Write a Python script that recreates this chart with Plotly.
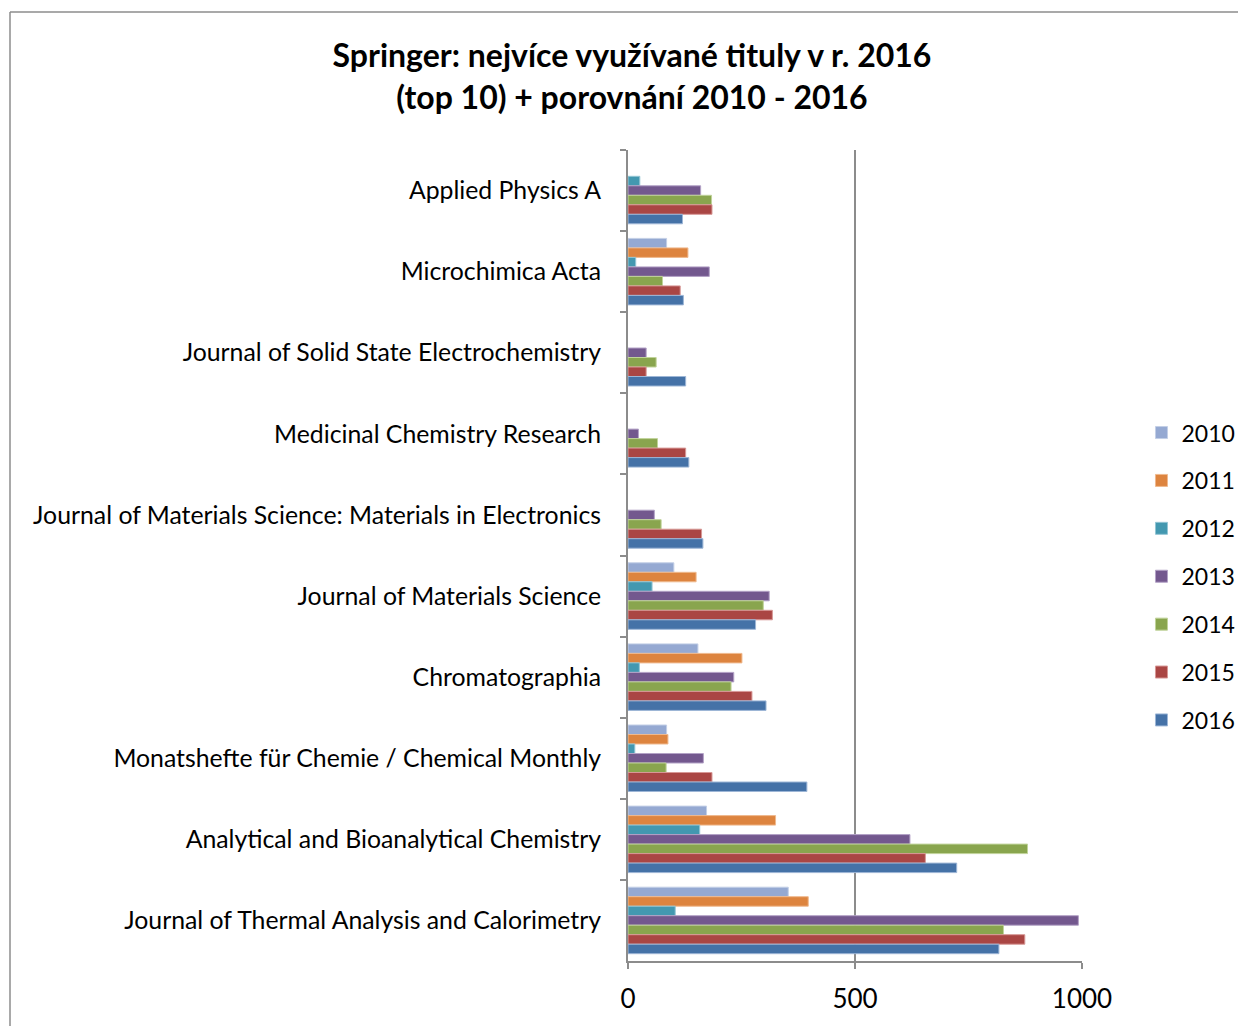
import plotly.graph_objects as go

# titles, top to bottom as shown in the chart
journals = [
    "Applied Physics A",
    "Microchimica Acta",
    "Journal of Solid State Electrochemistry",
    "Medicinal Chemistry Research",
    "Journal of Materials Science: Materials in Electronics",
    "Journal of Materials Science",
    "Chromatographia",
    "Monatshefte für Chemie / Chemical Monthly",
    "Analytical and Bioanalytical Chemistry",
    "Journal of Thermal Analysis and Calorimetry",
]

years = ["2010", "2011", "2012", "2013", "2014", "2015", "2016"]

# None = no value for that year
v2010 = [None, 85, None, None, None, 101, 154, 85, 173, 353]
v2011 = [None, 132, None, None, None, 150, 251, 88, 325, 397]
v2012 = [26, 17, None, None, None, 53, 25, 15, 158, 104]
v2013 = [160, 179, 40, 23, 58, 311, 233, 166, 621, 992]
v2014 = [184, 76, 62, 65, 73, 298, 227, 84, 880, 827]
v2015 = [185, 115, 40, 127, 162, 318, 273, 185, 655, 874]
v2016 = [120, 122, 127, 134, 165, 281, 304, 394, 724, 817]

values = [v2010, v2011, v2012, v2013, v2014, v2015, v2016]
colors = ["#95A9D2", "#DD843F", "#4398B0", "#73588E", "#89A54E", "#AA4644", "#4572A7"]
edges = ["#C3CFE6", "#EFB98E", "#93C5D4", "#B3A2C6", "#C0D39A", "#D79896", "#9DB6D6"]

FONT = "Lato"
GRAY = "#8C8C8C"

# page body has an 8px margin, so the figure is 8px smaller than the window
W, H = 1238, 1018

fig = go.Figure()
for yr, vals, c, e in zip(years, values, colors, edges):
    fig.add_trace(go.Bar(
        y=journals, x=vals, name=yr, orientation="h",
        marker=dict(color=c, line=dict(color=e, width=1)),
        legendgroup=yr,
    ))

fig.update_layout(
    width=W, height=H,
    paper_bgcolor="white", plot_bgcolor="white",
    margin=dict(l=620, r=164, t=142, b=65, autoexpand=False),
    barmode="group", bargap=0.18, bargroupgap=0,
    font=dict(family=FONT, color="black"),
    title=dict(
        text="<b>Springer: nejvíce využívané tituly v r. 2016<br>(top 10) + porovnání 2010 - 2016</b>",
        x=624 / W, xref="container", xanchor="center",
        y=1 - 59 / H, yref="container", yanchor="middle",
        font=dict(family=FONT, size=32, color="black"),
    ),
    legend=dict(
        x=1.131, xanchor="left", y=0.474, yanchor="middle",
        font=dict(family=FONT, size=23, color="black"),
        tracegroupgap=15, itemwidth=30,
    ),
    showlegend=True,
)

fig.update_xaxes(
    range=[0, 1000], tickvals=[0, 500, 1000],
    showgrid=True, gridcolor=GRAY, gridwidth=2,
    showline=True, linecolor=GRAY, linewidth=2,
    ticks="outside", ticklen=6, tickcolor=GRAY, tickwidth=2,
    tickfont=dict(family=FONT, size=26, color="black"),
    ticklabelstandoff=8,
    zeroline=False, automargin=False,
)
fig.update_yaxes(
    autorange="reversed",
    showline=True, linecolor=GRAY, linewidth=2,
    ticks="outside", tickson="boundaries", ticklen=6, tickcolor=GRAY, tickwidth=2,
    tickfont=dict(family=FONT, size=24.8, color="black"),
    ticklabelstandoff=20, automargin=False,
)

# outer chart frame (cut off at the right and bottom edges)
x_left = (2 - 620) / 454
y_top = (953 - 4) / 811
fig.add_shape(type="line", xref="paper", yref="paper", x0=x_left, x1=x_left,
              y0=y_top, y1=-0.2, line=dict(color=GRAY, width=1.5))
fig.add_shape(type="line", xref="paper", yref="paper", x0=x_left, x1=1.5,
              y0=y_top, y1=y_top, line=dict(color=GRAY, width=1.5))

fig.write_html("out.html")
